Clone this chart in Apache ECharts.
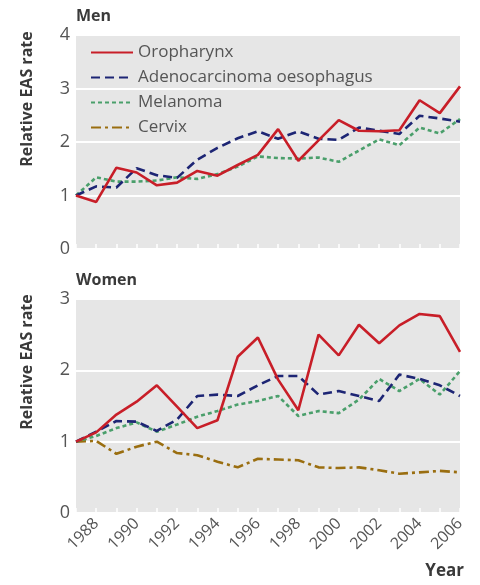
<!DOCTYPE html>
<html><head><meta charset="utf-8">
<script src="https://cdn.jsdelivr.net/npm/echarts@6/dist/echarts.min.js"></script>
<style>html,body{margin:0;padding:0;background:#fff}#c{width:480px;height:585px}</style>
</head><body><div id="c"></div>
<script>
var years = ['1987','1988','1989','1990','1991','1992','1993','1994','1995','1996','1997','1998','1999','2000','2001','2002','2003','2004','2005','2006'];
var menYTicks = [0,1,2,3,4];
var womenYTicks = [0,1,2,3];
var menOropharynx = [1.0,0.88,1.52,1.43,1.19,1.24,1.46,1.37,1.57,1.76,2.24,1.65,2.03,2.41,2.21,2.2,2.22,2.78,2.54,3.04];
var menAdeno = [1.0,1.17,1.15,1.51,1.38,1.33,1.67,1.89,2.07,2.2,2.06,2.2,2.06,2.04,2.27,2.21,2.15,2.49,2.44,2.38];
var menMelanoma = [1.0,1.34,1.26,1.26,1.28,1.34,1.31,1.4,1.54,1.73,1.7,1.69,1.71,1.63,1.84,2.05,1.94,2.27,2.16,2.43];
var womenOropharynx = [1.0,1.13,1.38,1.56,1.79,1.49,1.19,1.3,2.19,2.46,1.87,1.44,2.5,2.21,2.64,2.38,2.63,2.79,2.76,2.26];
var womenAdeno = [1.0,1.14,1.29,1.28,1.15,1.31,1.64,1.66,1.64,1.79,1.92,1.92,1.66,1.71,1.64,1.57,1.94,1.88,1.79,1.64];
var womenMelanoma = [1.0,1.08,1.19,1.27,1.14,1.24,1.35,1.43,1.52,1.57,1.64,1.36,1.43,1.4,1.59,1.88,1.71,1.88,1.66,1.99];
var womenCervix = [1.0,1.01,0.83,0.93,1.0,0.84,0.81,0.72,0.64,0.76,0.75,0.74,0.64,0.63,0.64,0.6,0.55,0.57,0.59,0.57];
var seriesNames = ['Oropharynx','Adenocarcinoma oesophagus','Melanoma','Cervix'];

var FONT = '"Open Sans", "Noto Sans", sans-serif';
var styles = {
  'Oropharynx': {color:'#c81e28', type:'solid'},
  'Adenocarcinoma oesophagus': {color:'#1d2574', type:[9,5]},
  'Melanoma': {color:'#4a9f6b', type:[4,3]},
  'Cervix': {color:'#9a6e10', type:[10,4,3,4]}
};
function mk(name, data, gi){
  var s = styles[name];
  return {name:name, type:'line', xAxisIndex:gi, yAxisIndex:gi, data:data, symbol:'none',
    lineStyle:{color:s.color, width:2.6, type:s.type}, itemStyle:{color:s.color}, animation:false};
}
function xAx(gi, showLabels){
  return {type:'category', gridIndex:gi, data:years, boundaryGap:false,
    axisLine:{show:false},
    axisTick:{show:true, inside:true, length:5, interval:0, lineStyle:{color:'#ffffff', width:1.5}},
    axisLabel:{show:showLabels, rotate:45, fontSize:16, color:'#555', fontFamily:FONT, margin:8,
      interval:function(i,v){return parseInt(v,10)%2===0;}},
    splitLine:{show:false}};
}
function yAx(gi, ticks){
  return {type:'value', gridIndex:gi, min:ticks[0], max:ticks[ticks.length-1], interval:1,
    axisLine:{show:false}, axisTick:{show:false},
    axisLabel:{fontSize:18, color:'#555', fontFamily:FONT, margin:6},
    splitLine:{show:true, lineStyle:{color:'#ffffff', width:2}}};
}
var chart = echarts.init(document.getElementById('c'), null, {renderer:'canvas'});
chart.setOption({
  animation:false,
  grid:[
    {left:76, right:20, top:35, height:214, show:true, backgroundColor:'#e6e6e6', borderWidth:0},
    {left:76, right:20, top:299, height:214, show:true, backgroundColor:'#e6e6e6', borderWidth:0}
  ],
  xAxis:[xAx(0,false), xAx(1,true)],
  yAxis:[yAx(0,menYTicks), yAx(1,womenYTicks)],
  legend:{data:seriesNames, orient:'vertical', left:85, top:39, itemWidth:42, itemHeight:14, itemGap:8,
    itemStyle:{color:'transparent', borderColor:'transparent', borderWidth:0},
    textStyle:{fontSize:17, color:'#555', fontFamily:FONT}, inactiveColor:'#aaa'},
  graphic:[
    {type:'text', left:76, top:8, style:{text:'Men', font:'bold 16px '+FONT, fill:'#3a3a3a'}},
    {type:'text', left:76, top:272, style:{text:'Women', font:'bold 16px '+FONT, fill:'#3a3a3a'}},
    {type:'text', x:27, y:99, rotation:Math.PI/2, style:{text:'Relative EAS rate', font:'bold 16px '+FONT, fill:'#3a3a3a', align:'center', verticalAlign:'middle'}},
    {type:'text', x:27, y:362, rotation:Math.PI/2, style:{text:'Relative EAS rate', font:'bold 16px '+FONT, fill:'#3a3a3a', align:'center', verticalAlign:'middle'}},
    {type:'text', right:16, top:563, style:{text:'Year', font:'bold 17px '+FONT, fill:'#3a3a3a'}}
  ],
  series:[
    mk('Melanoma', menMelanoma, 0),
    mk('Adenocarcinoma oesophagus', menAdeno, 0),
    mk('Oropharynx', menOropharynx, 0),
    mk('Cervix', womenCervix, 1),
    mk('Melanoma', womenMelanoma, 1),
    mk('Adenocarcinoma oesophagus', womenAdeno, 1),
    mk('Oropharynx', womenOropharynx, 1)
  ]
});
</script></body></html>
